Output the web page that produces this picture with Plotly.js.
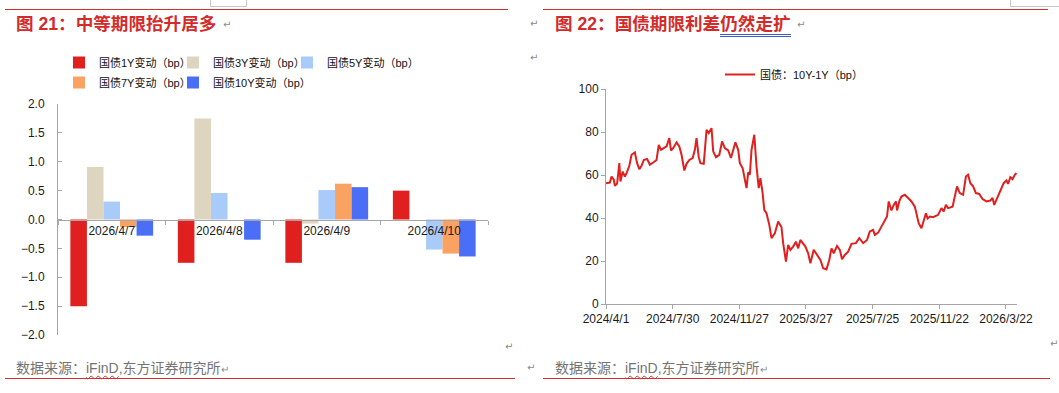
<!DOCTYPE html>
<html>
<head>
<meta charset="utf-8">
<script src="https://cdn.plot.ly/plotly-3.0.1.min.js"></script>
<style>
  body { margin: 0; background: #fff; }
  #page { position: relative; width: 1059px; height: 393px; overflow: hidden; background: #fff;
          font-family: "Liberation Sans", "Noto Sans CJK SC", sans-serif; }
  .abs { position: absolute; }
  #c1 { left: 0; top: 0; width: 530px; height: 393px; }
  #c2 { left: 530px; top: 0; width: 529px; height: 393px; }
  .rule { position: absolute; height: 0; border-top: 1.3px solid #d0322d; }
  .title { position: absolute; color: #d42a2a; font-weight: bold; font-size: 17.6px; line-height: 20px;
           white-space: nowrap; font-family: "Liberation Sans", "Noto Sans CJK SC", sans-serif; }
  .foot { position: absolute; color: #747474; font-size: 14px; line-height: 16px; white-space: nowrap;
          font-family: "Liberation Sans", "Noto Sans CJK SC", sans-serif; }
  .wavy { text-decoration: underline wavy #e03030; text-decoration-thickness: 1px; text-underline-offset: 2px; }
  .pil { position: absolute; color: #8a8a8a; font-size: 10px; line-height: 10px; font-family: "DejaVu Sans", sans-serif; }
  .dbl { border-bottom: 3px double #3a5cc0; }
  .box { position: absolute; border: 1px solid #c8c8c8; border-top: none; }
</style>
</head>
<body>
<div id="page">
  <div class="box" style="left:210px;top:-1px;width:35px;height:7px;"></div>
  <div class="box" style="left:1010px;top:-1px;width:48px;height:7px;"></div>
  <div class="rule" style="left:5px;top:9px;width:503px;"></div>
  <div class="rule" style="left:543px;top:9px;width:505px;"></div>

  <div id="c1" class="abs"></div>
  <div id="c2" class="abs"></div>

  <div class="title" style="left:16px;top:14px;">图 21：中等期限抬升居多</div>
  <div class="pil" style="left:223px;top:20px;">↵</div>
  <div class="title" style="left:555px;top:14px;">图 22：国债期限利差<span class="dbl">仍然走扩</span></div>
  <div class="pil" style="left:797px;top:20px;">↵</div>
  <div class="pil" style="left:530px;top:19px;">↵</div>
  <div class="pil" style="left:530px;top:53px;">↵</div>

  <div class="pil" style="left:505px;top:342px;">↵</div>
  <div class="pil" style="left:1050px;top:339px;">↵</div>
  <div class="foot" style="left:16px;top:360px;">数据来源：<span class="wavy">iFinD</span>,东方证券研究所<span style="font-size:10px;color:#8a8a8a;">↵</span></div>
  <div class="pil" style="left:527px;top:363px;">↵</div>
  <div class="foot" style="left:555px;top:360px;">数据来源：<span class="wavy">iFinD</span>,东方证券研究所<span style="font-size:10px;color:#8a8a8a;">↵</span></div>
  <div class="rule" style="left:5px;top:378px;width:510px;"></div>
  <div class="rule" style="left:543px;top:378px;width:507px;"></div>
</div>

<script>
// ---------- Chart 21 data ----------
const categories = ['2026/4/7', '2026/4/8', '2026/4/9', '2026/4/10'];
const seriesNames = ['国债1Y变动（bp）', '国债3Y变动（bp）', '国债5Y变动（bp）', '国债7Y变动（bp）', '国债10Y变动（bp）'];
const chg1Y  = [-1.50, -0.75, -0.75,  0.50];
const chg3Y  = [ 0.91,  1.75, -0.07,  0.00];
const chg5Y  = [ 0.31,  0.46,  0.51, -0.52];
const chg7Y  = [-0.13,  0.00,  0.62, -0.59];
const chg10Y = [-0.28, -0.35,  0.56, -0.64];
const barTickVals = [-2, -1.5, -1, -0.5, 0, 0.5, 1, 1.5, 2];

// ---------- Chart 22 data ----------
const spreadName = '国债：10Y-1Y（bp）';
const spreadDates = [
  '2024-04-01','2024-04-08','2024-04-11','2024-04-15','2024-04-17','2024-04-21','2024-04-25','2024-04-27',
  '2024-05-01','2024-05-05','2024-05-08','2024-05-13','2024-05-17','2024-05-23','2024-05-27','2024-05-31',
  '2024-06-04','2024-06-08','2024-06-14','2024-06-19','2024-06-25','2024-07-01','2024-07-05','2024-07-09',
  '2024-07-14','2024-07-19','2024-07-24','2024-07-27','2024-07-31','2024-08-06','2024-08-11','2024-08-15',
  '2024-08-20','2024-08-24','2024-08-29','2024-09-04','2024-09-08','2024-09-11','2024-09-15','2024-09-18',
  '2024-09-24','2024-09-29','2024-10-03','2024-10-08','2024-10-11','2024-10-16','2024-10-22','2024-10-27',
  '2024-11-01','2024-11-07','2024-11-12','2024-11-20','2024-11-25','2024-11-28','2024-12-03','2024-12-06',
  '2024-12-10','2024-12-13','2024-12-16','2024-12-19','2024-12-24','2024-12-28','2025-01-01','2025-01-04',
  '2025-01-08','2025-01-11','2025-01-15','2025-01-20','2025-01-24','2025-01-30','2025-02-05','2025-02-11',
  '2025-02-14','2025-02-19','2025-02-23','2025-02-27','2025-03-04','2025-03-09','2025-03-13','2025-03-17',
  '2025-03-22','2025-03-26','2025-03-31','2025-04-04','2025-04-10','2025-04-16','2025-04-22','2025-04-27',
  '2025-05-03','2025-05-08','2025-05-12','2025-05-16','2025-05-22','2025-05-27','2025-05-31','2025-06-05',
  '2025-06-11','2025-06-17','2025-06-25','2025-07-01','2025-07-08','2025-07-15','2025-07-20','2025-07-26',
  '2025-07-29','2025-08-04','2025-08-10','2025-08-16','2025-08-20','2025-08-23','2025-08-28','2025-09-01',
  '2025-09-05','2025-09-07','2025-09-11','2025-09-15','2025-09-21','2025-09-27','2025-10-03','2025-10-09',
  '2025-10-13','2025-10-16','2025-10-21','2025-10-25','2025-10-29','2025-11-01','2025-11-05','2025-11-11',
  '2025-11-20','2025-11-26','2025-11-30','2025-12-04','2025-12-08','2025-12-16','2025-12-20','2025-12-24',
  '2025-12-29','2026-01-04','2026-01-09','2026-01-13','2026-01-17','2026-01-22','2026-01-27','2026-02-02',
  '2026-02-08','2026-02-15','2026-02-22','2026-02-26','2026-03-01','2026-03-06','2026-03-12','2026-03-18',
  '2026-03-23','2026-03-26','2026-03-30','2026-04-03','2026-04-07','2026-04-10'
];
const spreadValues = [
  56.2,56.5,59.3,57.8,55.0,56.0,65.5,57.0,
  61.6,59.3,60.9,64.3,69.4,70.5,65.5,62.7,
  64.3,67.0,67.5,64.8,65.8,67.0,74.0,71.7,
  72.5,73.3,77.2,71.4,72.5,75.2,73.3,69.4,
  62.1,65.2,67.0,67.9,71.7,77.2,68.3,65.5,
  65.2,81.0,79.5,81.8,71.0,68.3,69.4,75.6,
  72.5,71.4,67.9,75.2,71.7,65.5,63.2,59.3,
  53.9,61.2,60.1,71.7,78.7,64.0,53.9,58.5,
  51.6,43.8,42.2,36.8,30.6,32.9,38.4,35.7,
  28.3,19.7,27.5,25.2,26.7,29.0,25.9,29.8,
  28.3,26.7,23.6,18.9,25.2,22.8,20.5,16.6,
  16.1,20.5,25.9,23.6,27.0,25.2,20.8,22.8,
  24.3,28.0,28.3,30.6,28.3,29.8,33.7,34.5,
  32.1,33.2,36.0,39.1,40.7,47.7,43.5,46.1,
  47.7,43.5,47.7,50.0,50.8,49.3,47.7,45.3,
  40.7,37.6,35.2,38.4,42.2,39.8,40.7,40.4,
  41.5,44.6,43.0,46.1,44.6,45.3,49.3,54.7,
  51.6,50.8,59.3,60.1,56.2,54.7,51.6,51.2,
  48.8,47.7,48.1,49.3,46.1,49.3,53.1,56.2,
  57.5,55.9,59.0,58.1,60.1,60.9
];
const spreadTickVals = ['2024-04-01','2024-07-30','2024-11-27','2025-03-27','2025-07-25','2025-11-22','2026-03-22'];
const spreadTickText = ['2024/4/1','2024/7/30','2024/11/27','2025/3/27','2025/7/25','2025/11/22','2026/3/22'];
const spreadYTicks = [0, 20, 40, 60, 80, 100];

// ---------- styles ----------
const FONT = '"Liberation Sans", "Noto Sans CJK SC", Arial, sans-serif';
const barColors = ['#e0201e', '#ddd5bf', '#a9cbfa', '#f9a261', '#4b6ef6'];
const axisGray = '#a6a6a6';
const legendIds = ['legend', 'legend2', 'legend3', 'legend4', 'legend5'];
// legend slot positions (container px): column, row
const legendSlots = [[0, 0], [1, 0], [2, 0], [0, 1], [1, 1]];

const barSeries = [chg1Y, chg3Y, chg5Y, chg7Y, chg10Y];
const barTraces = barSeries.map((vals, i) => ({
  type: 'bar',
  name: seriesNames[i],
  x: categories,
  y: vals,
  legend: legendIds[i],
  marker: { color: barColors[i], line: { width: 0 } },
  hoverinfo: 'skip'
}));

const layout1 = {
  width: 530, height: 393,
  margin: { l: 58, r: 42, t: 104, b: 58 },
  paper_bgcolor: 'rgba(0,0,0,0)', plot_bgcolor: 'rgba(0,0,0,0)',
  font: { family: FONT, size: 12, color: '#1a1a1a' },
  barmode: 'group', bargap: 0.23, bargroupgap: 0,
  showlegend: true,
  xaxis: {
    type: 'category', anchor: 'free', position: 0.5,
    showline: true, linecolor: axisGray, linewidth: 1,
    ticks: 'outside', ticklen: 4, tickcolor: axisGray, tickson: 'boundaries',
    tickfont: { family: FONT, size: 12, color: '#1a1a1a' },
    showgrid: false, zeroline: false, fixedrange: true
  },
  yaxis: {
    range: [-2, 2], tickvals: barTickVals, tickformat: '.1f',
    showline: true, linecolor: axisGray, linewidth: 1,
    ticks: 'inside', ticklen: 4, tickcolor: axisGray,
    ticklabelstandoff: 10,
    tickfont: { family: FONT, size: 12, color: '#1a1a1a' },
    showgrid: false, zeroline: false, fixedrange: true
  }
};
legendIds.forEach((id, i) => {
  const col = legendSlots[i][0], row = legendSlots[i][1];
  layout1[id] = {
    orientation: 'h', xref: 'container', yref: 'container',
    x: (59 + col * 114) / 530, xanchor: 'left',
    y: 1 - (48 + row * 20) / 393, yanchor: 'top',
    font: { family: FONT, size: 11, color: '#111' },
    bgcolor: 'rgba(0,0,0,0)'
  };
});

const lineTrace = {
  type: 'scatter', mode: 'lines', name: spreadName,
  x: spreadDates, y: spreadValues,
  line: { color: '#e0201e', width: 2 },
  hoverinfo: 'skip'
};

const layout2 = {
  width: 529, height: 393,
  margin: { l: 76, r: 42, t: 89, b: 89 },
  paper_bgcolor: 'rgba(0,0,0,0)', plot_bgcolor: 'rgba(0,0,0,0)',
  font: { family: FONT, size: 12, color: '#1a1a1a' },
  showlegend: true,
  legend: {
    orientation: 'h', xref: 'container', yref: 'container',
    x: 264 / 529, xanchor: 'center', y: 1 - 60 / 393, yanchor: 'top',
    font: { family: FONT, size: 11, color: '#111' },
    bgcolor: 'rgba(0,0,0,0)'
  },
  xaxis: {
    type: 'date', range: ['2024-04-01', '2026-04-11'],
    tickmode: 'array', tickvals: spreadTickVals, ticktext: spreadTickText,
    showline: true, linecolor: axisGray, linewidth: 1,
    ticks: 'outside', ticklen: 4, tickcolor: axisGray,
    tickfont: { family: FONT, size: 12, color: '#1a1a1a' },
    showgrid: false, zeroline: false, fixedrange: true
  },
  yaxis: {
    range: [0, 100], tickvals: spreadYTicks,
    showline: true, linecolor: axisGray, linewidth: 1,
    ticks: 'outside', ticklen: 4, tickcolor: axisGray,
    tickfont: { family: FONT, size: 12, color: '#1a1a1a' },
    showgrid: false, zeroline: false, fixedrange: true
  }
};

const config = { staticPlot: true, displayModeBar: false };
Plotly.newPlot('c1', barTraces, layout1, config);
Plotly.newPlot('c2', [lineTrace], layout2, config);
</script>
</body>
</html>
